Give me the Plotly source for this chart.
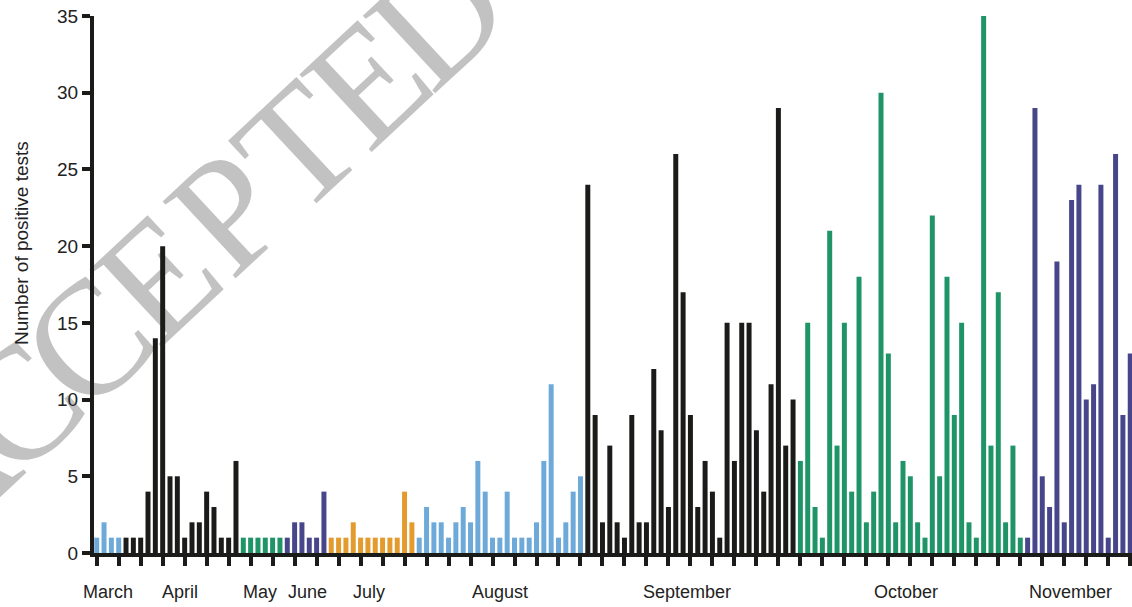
import math
import plotly.graph_objects as go

# ---- data ----
values = [
    1, 2, 1, 1,                                              # light blue
    1, 1, 1, 4, 14, 20, 5, 5, 1, 2, 2, 4, 3, 1, 1, 6,        # black
    1, 1, 1, 1, 1, 1,                                        # green
    1, 2, 2, 1, 1, 4,                                        # purple
    1, 1, 1, 2, 1, 1, 1, 1, 1, 1, 4, 2,                      # orange
    1, 3, 2, 2, 1, 2, 3, 2, 6, 4, 1, 1, 4, 1, 1, 1, 2, 6, 11, 1, 2, 4, 5,  # light blue
    24, 9, 2, 7, 2, 1, 9, 2, 2, 12, 8, 3, 26, 17, 9, 3, 6, 4, 1, 15, 6, 15, 15, 8, 4, 11, 29, 7, 10,  # black
    6, 15, 3, 1, 21, 7, 15, 4, 18, 2, 4, 30, 13, 2, 6, 5, 2, 1, 22, 5, 18, 9, 15, 2, 1, 35, 7, 17, 2, 7, 1,  # green
    1, 29, 5, 3, 19, 2, 23, 24, 10, 11, 24, 1, 26, 9, 13,   # purple
]
group_runs = [("A", 4), ("B", 16), ("C", 6), ("D", 6), ("E", 12),
              ("A", 23), ("B", 29), ("C", 31), ("D", 15)]
groups = [g for g, n in group_runs for _ in range(n)]

months = ["March", "April", "May", "June", "July", "August",
          "September", "October", "November"]
month_pos = [1.55, 11.4, 22.3, 28.7, 37.1, 55.0, 80.5, 110.4, 132.8]

y_ticks = [0, 5, 10, 15, 20, 25, 30, 35]

watermark = "ACCEPTED"

# ---- styles ----
group_colors = {"A": "#6EAAD9", "B": "#1B1B19", "C": "#1E9467",
                "D": "#47468A", "E": "#E39B2E"}

x = list(range(len(values)))
colors = [group_colors[g] for g in groups]

fig = go.Figure()
fig.add_trace(go.Bar(x=x, y=values, marker=dict(color=colors, line=dict(width=0)),
                     showlegend=False))

W, H = 1132, 607
ml, mr, mt, mb = 94, 0, 16, 54
pw, ph = W - ml - mr, H - mt - mb
spacing = 7.33
x0 = -(96.7 - ml) / spacing

def px_to_paper(px, py):
    return (px - ml) / pw, (H - mb - py) / ph

fig.update_layout(
    width=W, height=H,
    margin=dict(l=ml, r=mr, t=mt, b=mb),
    plot_bgcolor="rgba(0,0,0,0)", paper_bgcolor="white",
    bargap=0.32,
    font=dict(family="Liberation Sans, Arial, sans-serif", color="#222222"),
    xaxis=dict(range=[x0, x0 + pw / spacing], tickvals=list(range(0, len(values), 3)),
               showticklabels=False, ticks="outside", ticklen=9, tickwidth=4,
               tickcolor="#1B1B19", showline=True, linecolor="#1B1B19", linewidth=4,
               showgrid=False, zeroline=False, fixedrange=True),
    yaxis=dict(range=[0, 35], tickvals=y_ticks, ticks="outside", ticklen=8,
               tickwidth=3.5, tickcolor="#1B1B19", showline=True, linecolor="#1B1B19",
               linewidth=4, showgrid=False, zeroline=False,
               tickfont=dict(size=19, color="#222222"), fixedrange=True),
)

# month labels
for m, p in zip(months, month_pos):
    _, yp = px_to_paper(0, 592)
    fig.add_annotation(x=p, y=yp, xref="x", yref="paper", text=m,
                       showarrow=False, font=dict(size=18, color="#222222"),
                       xanchor="center", yanchor="middle")

# y-axis title
tx, ty = px_to_paper(21, 243)
fig.add_annotation(x=tx, y=ty, xref="paper", yref="paper",
                   text="Number of positive tests", textangle=-90, showarrow=False,
                   font=dict(size=19, color="#222222"), xanchor="center", yanchor="middle")

# watermark letters (behind the bars) along a diagonal line
wm_size = 162
angle = -43
mid = (250.0, 166.0)      # centre between letters 4 and 5
step = (70.0, -65.0)
for k, ch in enumerate(watermark):
    cx = mid[0] + (k - 4.5) * step[0]
    cy = mid[1] + (k - 4.5) * step[1]
    xp, yp = px_to_paper(cx, cy)
    fig.add_shape(type="rect", xref="paper", yref="paper",
                  x0=xp - 0.001, x1=xp + 0.001, y0=yp - 0.001, y1=yp + 0.001,
                  line=dict(width=0), fillcolor="rgba(0,0,0,0)", layer="below",
                  label=dict(text=ch, textangle=angle, textposition="middle center",
                             font=dict(family="Liberation Serif, Times New Roman, serif",
                                       size=wm_size, color="#C2C2C2")))

fig.write_html("out.html", config={"displayModeBar": False},
               post_script="document.body.style.margin='0';")
